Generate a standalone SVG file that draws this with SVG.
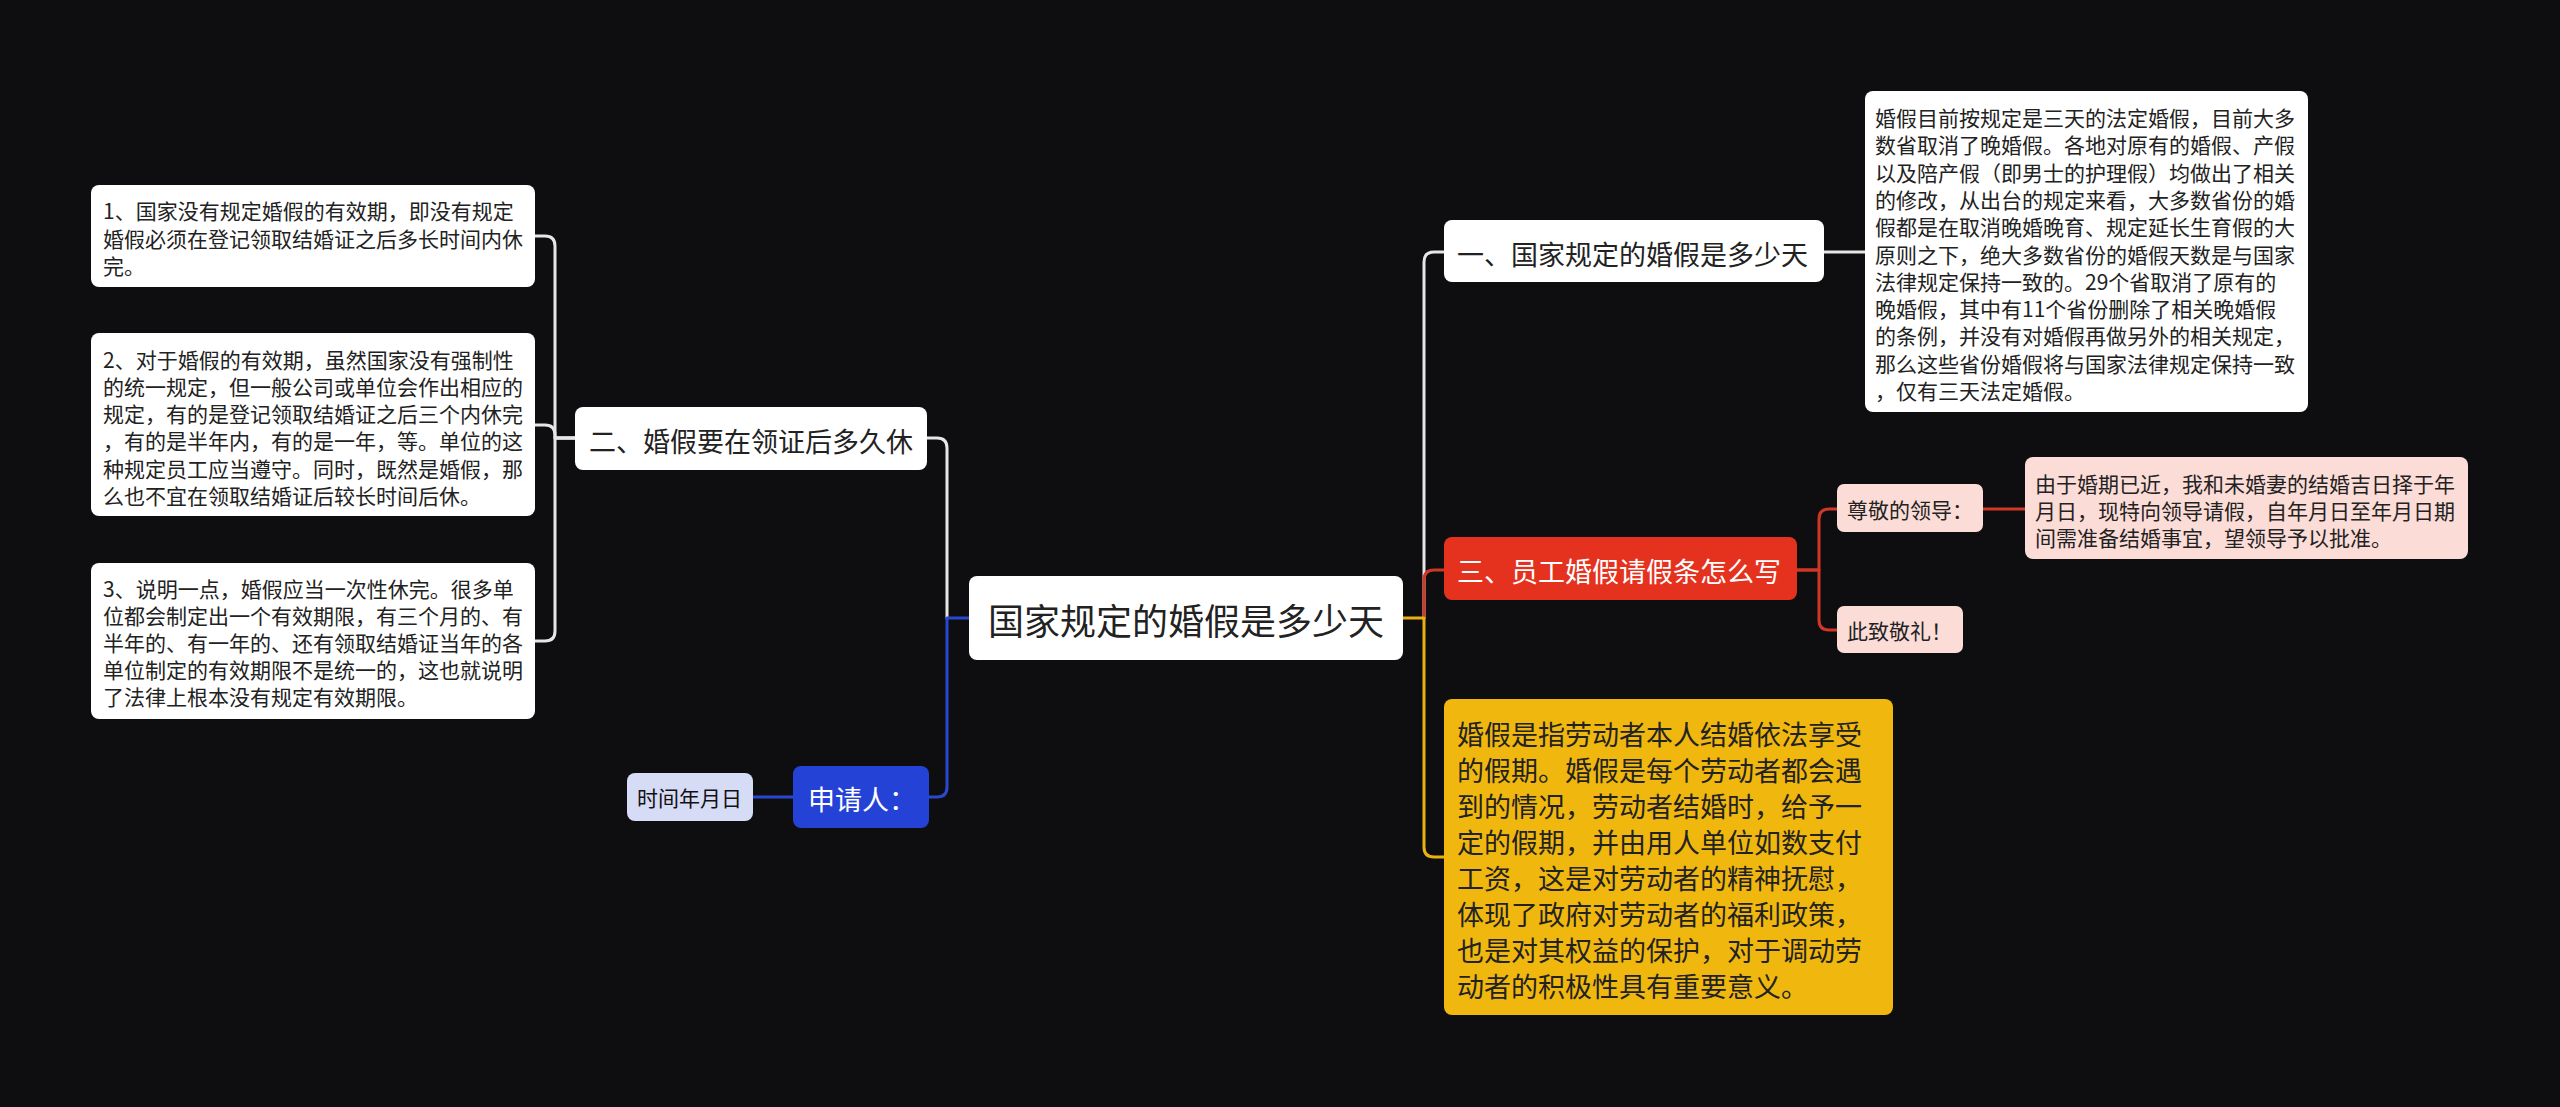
<svg xmlns="http://www.w3.org/2000/svg" width="2560" height="1107" viewBox="0 0 2560 1107">
<style>
text{font-family:"Noto Sans CJK SC","Noto Sans",sans-serif;dominant-baseline:central}
.s{font-size:21px;fill:#222}
.m{font-size:27px;fill:#222}
.w{fill:#fff}
.ln{fill:none;stroke-width:3;stroke-linecap:round;stroke-linejoin:round}
.wl{stroke:#e6e6e6}
.bl{stroke:#2a47d0}
.rl{stroke:#cf3726}
.yl{stroke:#e9b20f}
</style>
<rect width="2560" height="1107" fill="#0e0e10"/>
<g id="connectors">
<path class="ln wl" d="M575 438 H555 V246 Q555 236 545 236 H535"/>
<path class="ln wl" d="M575 438 H555 V435 Q555 425 545 425 H535"/>
<path class="ln wl" d="M575 438 H555 V631 Q555 641 545 641 H535"/>
<path class="ln wl" d="M947 618 V448 Q947 438 937 438 H927"/>
<path class="ln bl" d="M969 618 H947 V787 Q947 797 937 797 H929"/>
<path class="ln bl" d="M793 797 H753"/>
<path class="ln wl" d="M1424 618 V262 Q1424 252 1434 252 H1444"/>
<path class="ln rl" d="M1424 618 V580 Q1424 570 1434 570 H1444"/>
<path class="ln yl" d="M1403 618 H1424 V847 Q1424 857 1434 857 H1444"/>
<path class="ln wl" d="M1824 252 H1865"/>
<path class="ln rl" d="M1797 570 H1819 V519 Q1819 509 1829 509 H1837"/>
<path class="ln rl" d="M1797 570 H1819 V620 Q1819 630 1829 630 H1837"/>
<path class="ln rl" d="M1983 509 H2025"/>
</g>
<g id="root">
<rect x="969" y="576" width="434" height="84" rx="8" fill="#fff"/>
<text x="988" y="619" style="font-size:36px;fill:#222">国家规定的婚假是多少天</text>
</g>
<g id="n2">
<rect x="575" y="407" width="352" height="63" rx="8" fill="#fff"/>
<text class="m" x="589" y="440">二、婚假要在领证后多久休</text>
</g>
<g id="n2a">
<rect x="91" y="185" width="444" height="102" rx="8" fill="#fff"/>
<text class="s" x="103" y="210">1、国家没有规定婚假的有效期，即没有规定</text>
<text class="s" x="103" y="237.5">婚假必须在登记领取结婚证之后多长时间内休</text>
<text class="s" x="103" y="265">完。</text>
</g>
<g id="n2b">
<rect x="91" y="333" width="444" height="183" rx="8" fill="#fff"/>
<text class="s" x="103" y="358.5">2、对于婚假的有效期，虽然国家没有强制性</text>
<text class="s" x="103" y="385.8">的统一规定，但一般公司或单位会作出相应的</text>
<text class="s" x="103" y="413.1">规定，有的是登记领取结婚证之后三个内休完</text>
<text class="s" x="103" y="440.4">，有的是半年内，有的是一年，等。单位的这</text>
<text class="s" x="103" y="467.7">种规定员工应当遵守。同时，既然是婚假，那</text>
<text class="s" x="103" y="495">么也不宜在领取结婚证后较长时间后休。</text>
</g>
<g id="n2c">
<rect x="91" y="563" width="444" height="156" rx="8" fill="#fff"/>
<text class="s" x="103" y="588">3、说明一点，婚假应当一次性休完。很多单</text>
<text class="s" x="103" y="615">位都会制定出一个有效期限，有三个月的、有</text>
<text class="s" x="103" y="642">半年的、有一年的、还有领取结婚证当年的各</text>
<text class="s" x="103" y="669">单位制定的有效期限不是统一的，这也就说明</text>
<text class="s" x="103" y="696">了法律上根本没有规定有效期限。</text>
</g>
<g id="applicant">
<rect x="793" y="766" width="136" height="62" rx="8" fill="#2443d6"/>
<text class="m w" x="808" y="798">申请人：</text>
</g>
<g id="date">
<rect x="627" y="773" width="126" height="48" rx="8" fill="#d6dbf6"/>
<text class="s" x="637" y="797" style="fill:#111">时间年月日</text>
</g>
<g id="n1">
<rect x="1444" y="220" width="380" height="62" rx="8" fill="#fff"/>
<text class="m" x="1457" y="253">一、国家规定的婚假是多少天</text>
</g>
<g id="n1a">
<rect x="1865" y="91" width="443" height="321" rx="8" fill="#fff"/>
<text class="s" x="1875" y="117">婚假目前按规定是三天的法定婚假，目前大多</text>
<text class="s" x="1875" y="144.3">数省取消了晚婚假。各地对原有的婚假、产假</text>
<text class="s" x="1875" y="171.6">以及陪产假（即男士的护理假）均做出了相关</text>
<text class="s" x="1875" y="198.9">的修改，从出台的规定来看，大多数省份的婚</text>
<text class="s" x="1875" y="226.2">假都是在取消晚婚晚育、规定延长生育假的大</text>
<text class="s" x="1875" y="253.5">原则之下，绝大多数省份的婚假天数是与国家</text>
<text class="s" x="1875" y="280.8">法律规定保持一致的。29个省取消了原有的</text>
<text class="s" x="1875" y="308.1">晚婚假，其中有11个省份删除了相关晚婚假</text>
<text class="s" x="1875" y="335.4">的条例，并没有对婚假再做另外的相关规定，</text>
<text class="s" x="1875" y="362.7">那么这些省份婚假将与国家法律规定保持一致</text>
<text class="s" x="1875" y="390">，仅有三天法定婚假。</text>
</g>
<g id="n3">
<rect x="1444" y="537" width="353" height="63" rx="8" fill="#e5321f"/>
<text class="m w" x="1457" y="570">三、员工婚假请假条怎么写</text>
</g>
<g id="n3a">
<rect x="1837" y="484" width="146" height="48" rx="7" fill="#fcdcd7"/>
<text class="s" x="1847" y="509">尊敬的领导：</text>
</g>
<g id="n3a1">
<rect x="2025" y="457" width="443" height="102" rx="8" fill="#fcdcd7"/>
<text class="s" x="2035" y="483">由于婚期已近，我和未婚妻的结婚吉日择于年</text>
<text class="s" x="2035" y="510">月日，现特向领导请假，自年月日至年月日期</text>
<text class="s" x="2035" y="537">间需准备结婚事宜，望领导予以批准。</text>
</g>
<g id="n3b">
<rect x="1837" y="606" width="126" height="47" rx="7" fill="#fcdcd7"/>
<text class="s" x="1847" y="630">此致敬礼！</text>
</g>
<g id="n4">
<rect x="1444" y="699" width="449" height="316" rx="8" fill="#f0b70f"/>
<text class="m" x="1457" y="733">婚假是指劳动者本人结婚依法享受</text>
<text class="m" x="1457" y="769">的假期。婚假是每个劳动者都会遇</text>
<text class="m" x="1457" y="805">到的情况，劳动者结婚时，给予一</text>
<text class="m" x="1457" y="841">定的假期，并由用人单位如数支付</text>
<text class="m" x="1457" y="877">工资，这是对劳动者的精神抚慰，</text>
<text class="m" x="1457" y="913">体现了政府对劳动者的福利政策，</text>
<text class="m" x="1457" y="949">也是对其权益的保护，对于调动劳</text>
<text class="m" x="1457" y="985">动者的积极性具有重要意义。</text>
</g>
</svg>
